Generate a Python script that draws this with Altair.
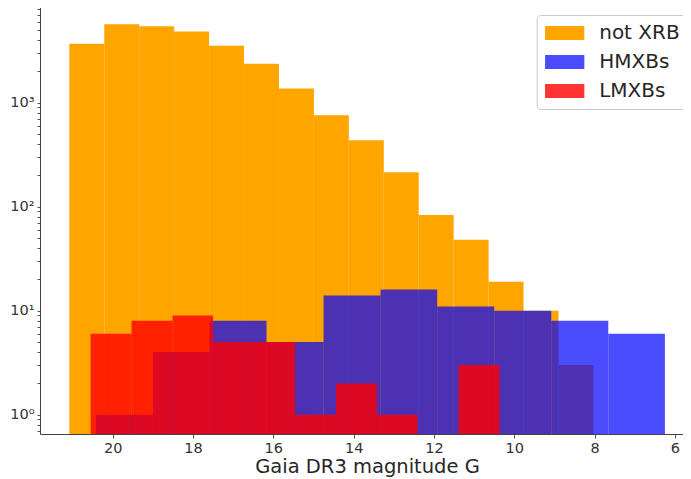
import altair as alt
import pandas as pd

series_names = ["not XRB", "HMXBs", "LMXBs"]
series_colors = ["rgba(255,165,0,1)", "rgba(0,0,255,0.7)", "rgba(255,0,0,0.8)"]

not_xrb_edges = [21.08, 20.21, 19.34, 18.47, 17.60, 16.73, 15.86, 14.99, 14.12,
                 13.25, 12.38, 11.51, 10.64, 9.77, 8.90, 8.03]
not_xrb_counts = [3690, 5660, 5420, 4820, 3530, 2370, 1365, 755, 434, 214, 83, 48, 19, 10, 3]

hmxb_edges = [20.42, 19.00, 17.59, 16.17, 14.75, 13.33, 11.92, 10.50, 9.08, 7.66, 6.25]
hmxb_counts = [1, 4, 8, 5, 14, 16, 11, 10, 8, 6]

lmxb_edges = [20.55, 19.53, 18.51, 17.50, 16.48, 15.46, 14.44, 13.42, 12.41, 11.39, 10.37]
lmxb_counts = [6, 8, 9, 5, 5, 1, 2, 1, 0, 3]

x_ticks = [20, 18, 16, 14, 12, 10, 8, 6]
y_major = [1, 10, 100, 1000]
y_minor = [0.7, 0.8, 0.9, 2, 3, 4, 5, 6, 7, 8, 9, 20, 30, 40, 50, 60, 70, 80, 90,
           200, 300, 400, 500, 600, 700, 800, 900, 2000, 3000, 4000, 5000, 6000, 7000, 8000]

X_DOMAIN = [5.80, 21.81]
Y_DOMAIN = [0.6526, 8680]

rows = []
for name, edges, counts in [("not XRB", not_xrb_edges, not_xrb_counts),
                            ("HMXBs", hmxb_edges, hmxb_counts),
                            ("LMXBs", lmxb_edges, lmxb_counts)]:
    for i, c in enumerate(counts):
        if c > 0:
            rows.append({"series": name, "lo": edges[i], "hi": edges[i + 1], "count": c})
df = pd.DataFrame(rows)

FONT = "DejaVu Sans"
label_expr = ("datum.value == 1 ? '10⁰' : datum.value == 10 ? '10¹' : "
              "datum.value == 100 ? '10²' : datum.value == 1000 ? '10³' : ''")

xscale = alt.Scale(domain=X_DOMAIN, reverse=True, nice=False, zero=False)
yscale = alt.Scale(type="log", domain=Y_DOMAIN, nice=False)

legend = alt.Legend(
    title=None, orient="none", legendX=496.7, legendY=10,
    symbolType="M-2,-0.7H2V0.7H-2Z", symbolSize=386, symbolStrokeWidth=0,
    symbolOffset=10, labelOffset=24.5, labelFontSize=20, labelFont=FONT,
    labelColor="#262626", rowPadding=9, padding=8, strokeColor="#cccccc",
    cornerRadius=4, fillColor="white",
)

bars = alt.Chart(df).mark_rect(strokeWidth=0).encode(
    x=alt.X("lo:Q", scale=xscale, title="Gaia DR3 magnitude G",
            axis=alt.Axis(values=x_ticks, grid=False, tickSize=4, labelFontSize=14.5,
                          labelFont=FONT, labelColor="#333333", titleFont=FONT,
                          titleFontSize=19.5, titleFontWeight="normal", titleColor="#262626",
                          titlePadding=3, titleX=327, labelPadding=3,
                          domainColor="#444444", tickColor="#555555", labelFlush=False)),
    x2="hi:Q",
    y=alt.Y("count:Q", scale=yscale, title=None,
            axis=alt.Axis(values=y_major + y_minor, labelExpr=label_expr, grid=False,
                          tickSize=3, labelFontSize=14.5, labelFont=FONT,
                          labelColor="#333333", domainColor="#444444",
                          tickColor="#555555", labelPadding=3, labelFlush=False)),
    y2=alt.datum(Y_DOMAIN[0]),
    color=alt.Color("series:N", scale=alt.Scale(domain=series_names, range=series_colors),
                    legend=legend),
)

top = alt.Chart(df).mark_rect(opacity=0).encode(
    x=alt.X("lo:Q", scale=xscale,
            axis=alt.Axis(orient="top", labels=False, ticks=False, title=None, grid=False,
                          domainColor="#444444")),
    x2="hi:Q",
    y=alt.Y("count:Q", scale=yscale),
    y2=alt.datum(Y_DOMAIN[0]),
)

chart = alt.layer(bars, top).resolve_axis(x="independent").properties(
    width=643, height=429,
    autosize=alt.AutoSizeParams(type="none"),
    padding={"left": 32, "top": -3, "right": 0, "bottom": 45},
).configure_view(stroke=None)

chart.save("out.html", embed_options={"renderer": "svg", "actions": False})
